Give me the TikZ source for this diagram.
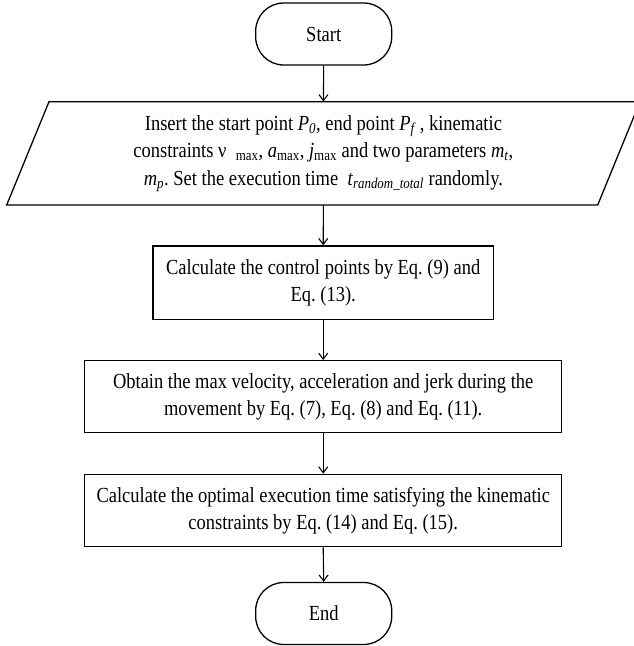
\documentclass[tikz,border=0pt]{standalone}
\usepackage{fontspec}
\setmainfont[FakeStretch=0.86]{Liberation Serif}
\usetikzlibrary{arrows.meta}
\begin{document}
\frenchspacing
\begin{tikzpicture}[x=1pt,y=-1pt,
  every node/.style={font=\fontsize{21.5}{27.5}\selectfont\frenchspacing, align=center, inner sep=0pt},
  term/.style={draw, line width=1.3pt, rounded corners=28pt, minimum width=136pt, minimum height=62pt},
  procbox/.style={draw, line width=1.3pt, minimum height=72pt},
  conn/.style={line width=1.1pt, -{Straight Barb[length=6pt,width=9pt,line width=1.1pt]}}]
\useasboundingbox (0,0) rectangle (633,646);
\node[term] (start) at (323.7,34) {Start};
\node[minimum width=540pt, minimum height=103.3pt] (in) at (323.4,153.35)
  {Insert the start point \textit{P}\textsubscript{\textit{0}}, end point \textit{P}\textsubscript{\textit{f}}\,, kinematic\\
   constraints ν \ \textsubscript{max}, \textit{a}\textsubscript{max}, \textit{j}\textsubscript{max} and two parameters \textit{m}\textsubscript{\textit{t}},\\
   \textit{m}\textsubscript{\textit{p}}. Set the execution time \ \textit{t}\textsubscript{\textit{random\_total}} randomly.};
\draw[line width=1.3pt] (49,101.7) -- (640,101.7) -- (597.7,205) -- (6.7,205) -- cycle;
\node[procbox, minimum width=340.3pt, minimum height=73.3pt] (b1) at (323.2,282.65)
  {Calculate the control points by Eq. (9) and\\ Eq. (13).};
\node[procbox, minimum width=477pt] (b2) at (323.2,396.7)
  {Obtain the max velocity, acceleration and jerk during the\\ movement by Eq. (7), Eq. (8) and Eq. (11).};
\node[procbox, minimum width=477pt, minimum height=72.4pt] (b3) at (323.2,510.5)
  {Calculate the optimal execution time satisfying the kinematic\\ constraints by Eq. (14) and Eq. (15).};
\node[term] (end) at (323.7,613.5) {End};
\draw[conn] (start.south) -- (in.north);
\draw[conn] (in.south) -- (b1.north);
\draw[conn] (b1.south) -- (b2.north);
\draw[conn] (b2.south) -- (b3.north);
\draw[conn] (b3.south) -- (end.north);
\end{tikzpicture}
\end{document}
